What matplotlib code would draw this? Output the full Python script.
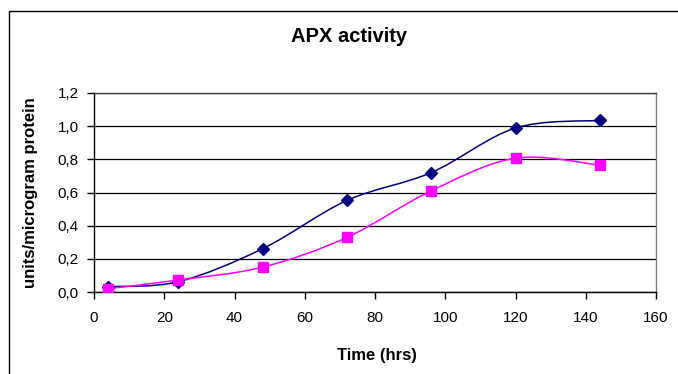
import numpy as np
import matplotlib
matplotlib.use("Agg")
import matplotlib.pyplot as plt
from matplotlib.path import Path
from matplotlib.patches import PathPatch, Rectangle
from matplotlib.ticker import FuncFormatter, MultipleLocator

plt.rcParams['font.family'] = ['Liberation Sans', 'DejaVu Sans']

# values
time_hrs = [4, 24, 48, 72, 96, 120, 144]
apx_navy = [0.032, 0.062, 0.261, 0.552, 0.720, 0.989, 1.035]
apx_pink = [0.020, 0.072, 0.150, 0.329, 0.610, 0.807, 0.765]

navy = '#000080'
pink = '#FF00FF'


def smooth_path(x, y):
    # Excel style smoothed line: cubic bezier through the points
    pts = np.column_stack([x, y]).astype(float)
    n = len(pts)
    verts = [pts[0]]
    codes = [Path.MOVETO]
    for i in range(n - 1):
        p0 = pts[i - 1] if i > 0 else pts[i]
        p1 = pts[i]
        p2 = pts[i + 1]
        p3 = pts[i + 2] if i + 2 < n else pts[i + 1]
        c1 = p1 + (p2 - p0) / 6.0
        c2 = p2 - (p3 - p1) / 6.0
        verts += [c1, c2, p2]
        codes += [Path.CURVE4] * 3
    return Path(verts, codes)


fig = plt.figure(figsize=(6.78, 3.74), dpi=100)
ax = fig.add_axes([94 / 678, 1 - 292 / 374, (656 - 94) / 678, (292 - 93) / 374])

for ys, col, mk in [(apx_navy, navy, 'D'), (apx_pink, pink, 's')]:
    ax.add_patch(PathPatch(smooth_path(time_hrs, ys), fill=False, edgecolor=col,
                           lw=1.1, zorder=3))
    ax.plot(time_hrs, ys, linestyle='none', marker=mk, color=col,
            markersize=6 if mk == 'D' else 6.5, zorder=4)

ax.set_xlim(0, 160)
ax.set_ylim(0, 1.2)
ax.xaxis.set_major_locator(MultipleLocator(20))
ax.yaxis.set_major_locator(MultipleLocator(0.2))
ax.yaxis.set_major_formatter(FuncFormatter(lambda v, p: ('%.1f' % v).replace('.', ',')))
ax.yaxis.grid(True, color='black', lw=0.9)
ax.set_axisbelow(True)
ax.tick_params(direction='out', length=5, width=1, labelsize=11, colors='black')
ax.tick_params(axis='x', pad=9)
ax.tick_params(axis='y', pad=6)
for s in ax.spines.values():
    s.set_color('black')
    s.set_linewidth(1)
ax.spines['right'].set_color('#808080')
ax.spines['top'].set_color('#404040')

ax.set_xlabel('Time (hrs)', fontsize=12, fontweight='bold')
ax.set_ylabel('units/microgram protein', fontsize=12, fontweight='bold')
ax.xaxis.set_label_coords(0.503, -0.281)
ax.yaxis.set_label_coords(-0.0996, 0.5)
fig.text(349 / 678, 1 - 37 / 374, 'APX activity', ha='center', va='center',
         fontsize=14.5, fontweight='bold')

# outer chart border
fig.patches.append(Rectangle((8.5 / 678, -0.1), 1.2, 1 - 11 / 374 + 0.1,
                             transform=fig.transFigure, fill=False,
                             edgecolor='black', lw=1))

fig.savefig('out.png', dpi=100)
